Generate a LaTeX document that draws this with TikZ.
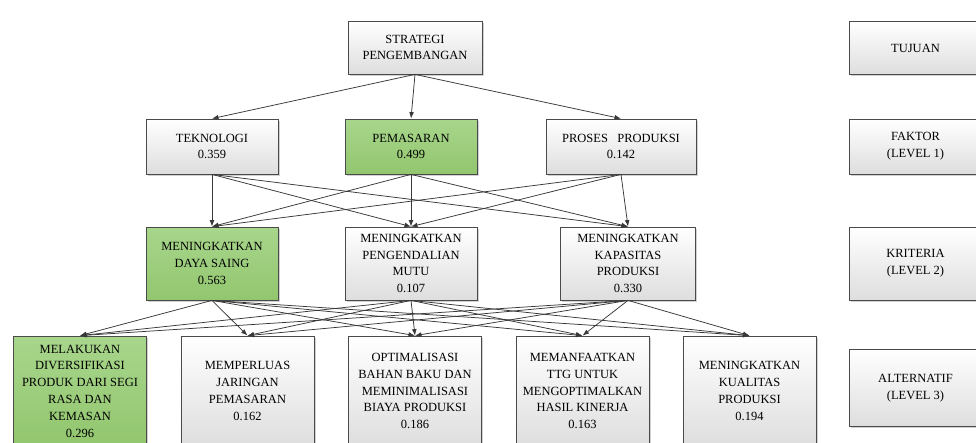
\documentclass[tikz,border=0pt]{standalone}
\usepackage{fontspec}
\setmainfont{Liberation Serif}
\usetikzlibrary{arrows.meta,shadows}
\definecolor{edgec}{HTML}{4A4A4A}
\definecolor{linec}{HTML}{383838}
\definecolor{gA}{HTML}{A8D68C}
\definecolor{gB}{HTML}{92C66E}
\tikzset{
  box/.style={draw=edgec, line width=0.8pt, top color=white, bottom color=black!13,
    align=center, font=\fontsize{12.5}{16.8}\selectfont, inner sep=1pt,
    drop shadow={shadow xshift=1.6pt, shadow yshift=-1.6pt, fill=black!40, opacity=0.45}},
  gbox/.style={box, top color=gA, bottom color=gB},
  arr/.style={draw=linec, line width=0.75pt, -{Latex[length=6.5pt,width=4.8pt]}},
}
\begin{document}
\begin{tikzpicture}[x=1pt,y=-1pt]
\clip (0,0) rectangle (976,442);
\fill[white] (0,0) rectangle (976,442);
% goal
\node[box, minimum width=134pt, minimum height=53pt] (s) at (415,47.5) {STRATEGI\\PENGEMBANGAN};
% level 1
\node[box,  minimum width=132pt, minimum height=55pt] (f1) at (212,146.5) {TEKNOLOGI\\0.359};
\node[gbox, minimum width=132pt, minimum height=55pt] (f2) at (411,146.5) {PEMASARAN\\0.499};
\node[box,  minimum width=150pt, minimum height=55pt] (f3) at (621,146.5) {PROSES~~~PRODUKSI\\0.142};
% level 2
\node[gbox, minimum width=132pt, minimum height=73pt] (k1) at (212,263.5) {MENINGKATKAN\\DAYA SAING\\0.563};
\node[box,  minimum width=132pt, minimum height=73pt] (k2) at (411,263.5) {MENINGKATKAN\\PENGENDALIAN\\MUTU\\0.107};
\node[box,  minimum width=135pt, minimum height=73pt] (k3) at (628,263.5) {MENINGKATKAN\\KAPASITAS\\PRODUKSI\\0.330};
% level 3
\node[gbox, minimum width=133pt, minimum height=110pt] (a1) at (80,391) {MELAKUKAN\\DIVERSIFIKASI\\PRODUK DARI SEGI\\RASA DAN\\KEMASAN\\0.296};
\node[box,  minimum width=133pt, minimum height=110pt] (a2) at (247.5,391) {MEMPERLUAS\\JARINGAN\\PEMASARAN\\0.162};
\node[box,  minimum width=133pt, minimum height=110pt] (a3) at (415,391) {OPTIMALISASI\\BAHAN BAKU DAN\\MEMINIMALISASI\\BIAYA PRODUKSI\\0.186};
\node[box,  minimum width=133pt, minimum height=110pt] (a4) at (582.5,391) {MEMANFAATKAN\\TTG UNTUK\\MENGOPTIMALKAN\\HASIL KINERJA\\0.163};
\node[box,  minimum width=133pt, minimum height=110pt] (a5) at (749.5,391) {MENINGKATKAN\\KUALITAS\\PRODUKSI\\0.194};
% legend column
\node[box, minimum width=133pt, minimum height=53pt] (r1) at (915.5,48) {TUJUAN};
\node[box, minimum width=133pt, minimum height=55pt] (r2) at (915.5,146.5) {FAKTOR\\(LEVEL 1)};
\node[box, minimum width=133pt, minimum height=73pt] (r3) at (915.5,263.5) {KRITERIA\\(LEVEL 2)};
\node[box, minimum width=133pt, minimum height=77pt] (r4) at (915.5,388) {ALTERNATIF\\(LEVEL 3)};
% connectors
\foreach \t in {f1,f2,f3} \draw[arr] (s.south) -- (\t.north);
\foreach \f in {f1,f2,f3} \foreach \t in {k1,k2,k3} \draw[arr] (\f.south) -- (\t.north);
\foreach \f in {k1,k2,k3} \foreach \t in {a1,a2,a3,a4,a5} \draw[arr] (\f.south) -- (\t.north);
\end{tikzpicture}
\end{document}
